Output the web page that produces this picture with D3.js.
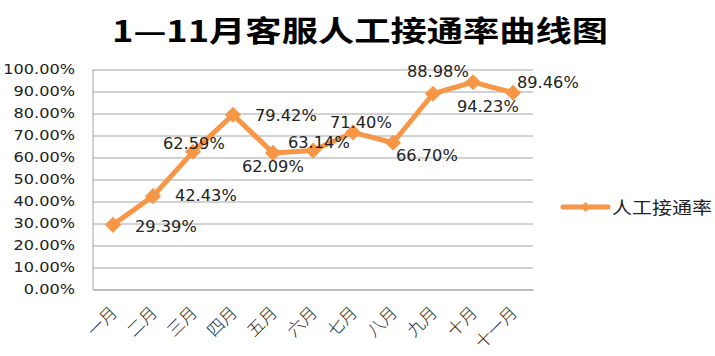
<!DOCTYPE html>
<html><head><meta charset="utf-8">
<script src="https://cdn.jsdelivr.net/npm/d3@7"></script>
<style>
html,body{margin:0;padding:0;background:#fff;}
svg{display:block;}
</style></head>
<body>
<svg id="chart" width="715" height="356"></svg>
<script>
const title = "1—11月客服人工接通率曲线图";
const seriesName = "人工接通率";
const months = ["一月","二月","三月","四月","五月","六月","七月","八月","九月","十月","十一月"];
const rates = [0.2939,0.4243,0.6259,0.7942,0.6209,0.6314,0.7140,0.6670,0.8898,0.9423,0.8946];
const yTicks = [0,0.1,0.2,0.3,0.4,0.5,0.6,0.7,0.8,0.9,1.0];
// label placement offsets (dx, dy) relative to each point
const labelOffsets = [[22,2],[22,0],[-30,-8],[22,1],[-31,14],[-25,-8],[-23,-10],[3,13],[-26,-22],[-16,25],[4,-10]];

const svg = d3.select("#chart");
const W = 715, H = 356;
const plot = {left:93, right:533, top:69.5, bottom:289.5};
const orange = "#F79646";
const stretch = 1.15;

svg.append("rect").attr("width",W).attr("height",H).attr("fill","#fff");

const x = d3.scaleBand().domain(months).range([plot.left, plot.right]);
const y = d3.scaleLinear().domain([0,1]).range([plot.bottom, plot.top]);
const fmt = d3.format(".2%");

function stretchText(sel, k){
  sel.each(function(){
    const l = this.getComputedTextLength();
    d3.select(this).attr("textLength", l*k).attr("lengthAdjust","spacingAndGlyphs");
  });
}

// Title
const t = svg.append("text").attr("x",360).attr("y",29)
  .attr("text-anchor","middle").attr("dominant-baseline","central")
  .style("font-family","'Noto Sans CJK SC', 'DejaVu Sans', sans-serif")
  .style("font-weight","bold").style("font-size","29px").attr("fill","#000")
  .text(title);
t.attr("textLength",496).attr("lengthAdjust","spacingAndGlyphs");

// Gridlines
const grid = svg.append("g").attr("transform",`translate(${plot.left},0)`)
  .call(d3.axisLeft(y).tickValues(yTicks).tickSize(-(plot.right-plot.left)).tickFormat(""));
grid.select(".domain").remove();
grid.selectAll(".tick line").attr("stroke","#a6a6a6").attr("stroke-width",1);

// Left axis line
svg.append("line").attr("x1",plot.left).attr("x2",plot.left).attr("y1",plot.top).attr("y2",plot.bottom)
  .attr("stroke","#a6a6a6").attr("stroke-width",1);

// Y axis labels
const yAxis = svg.append("g").attr("transform",`translate(${plot.left-18},0)`)
  .call(d3.axisLeft(y).tickValues(yTicks).tickSize(0).tickPadding(0).tickFormat(fmt));
yAxis.select(".domain").remove();
yAxis.selectAll("text").attr("fill","#222")
  .style("font-family","'DejaVu Sans', sans-serif").style("font-size","14px");
stretchText(yAxis.selectAll("text"), stretch);

// X axis labels
const xAxis = svg.append("g").attr("transform",`translate(0,${plot.bottom})`)
  .call(d3.axisBottom(x).tickSize(0).tickPadding(0));
xAxis.select(".domain").attr("stroke","#a6a6a6");
xAxis.selectAll(".tick text")
  .attr("text-anchor","end").attr("dy","0.35em")
  .attr("transform","translate(1,20) rotate(-45)")
  .attr("y",0).attr("x",0)
  .attr("fill","#222")
  .style("font-family","'Noto Sans CJK SC', sans-serif").style("font-size","17px").style("font-weight","300");

// Line
const line = d3.line().x((d,i)=>x(months[i])+x.bandwidth()/2).y(d=>y(d));
svg.append("path").datum(rates).attr("d",line)
  .attr("fill","none").attr("stroke",orange).attr("stroke-width",5).attr("stroke-linejoin","round");

// Markers
const sym = d3.symbol().type(d3.symbolSquare).size(130);
svg.append("g").selectAll("path").data(rates).join("path")
  .attr("d",sym)
  .attr("transform",(d,i)=>`translate(${x(months[i])+x.bandwidth()/2},${y(d)}) rotate(45)`)
  .attr("fill",orange);

// Data labels
const labels = svg.append("g").selectAll("text").data(rates).join("text")
  .attr("x",(d,i)=>x(months[i])+x.bandwidth()/2+labelOffsets[i][0])
  .attr("y",(d,i)=>y(d)+labelOffsets[i][1])
  .attr("dy","0.35em").attr("text-anchor","start")
  .attr("fill","#222")
  .style("font-family","'DejaVu Sans', sans-serif").style("font-size","15px")
  .text(d=>fmt(d));
stretchText(labels, 1.08);

// Legend
const lg = svg.append("g");
lg.append("line").attr("x1",563).attr("x2",608).attr("y1",207).attr("y2",207)
  .attr("stroke",orange).attr("stroke-width",5).attr("stroke-linecap","round");
lg.append("path").attr("d",d3.symbol().type(d3.symbolSquare).size(50))
  .attr("transform","translate(585.5,207) rotate(45)").attr("fill",orange);
const lt = lg.append("text").attr("x",612).attr("y",206).attr("dominant-baseline","central")
  .attr("fill","#222")
  .style("font-family","'Noto Sans CJK SC', sans-serif").style("font-size","17px")
  .text(seriesName);
lt.attr("textLength",100).attr("lengthAdjust","spacingAndGlyphs");
</script>
</body></html>
